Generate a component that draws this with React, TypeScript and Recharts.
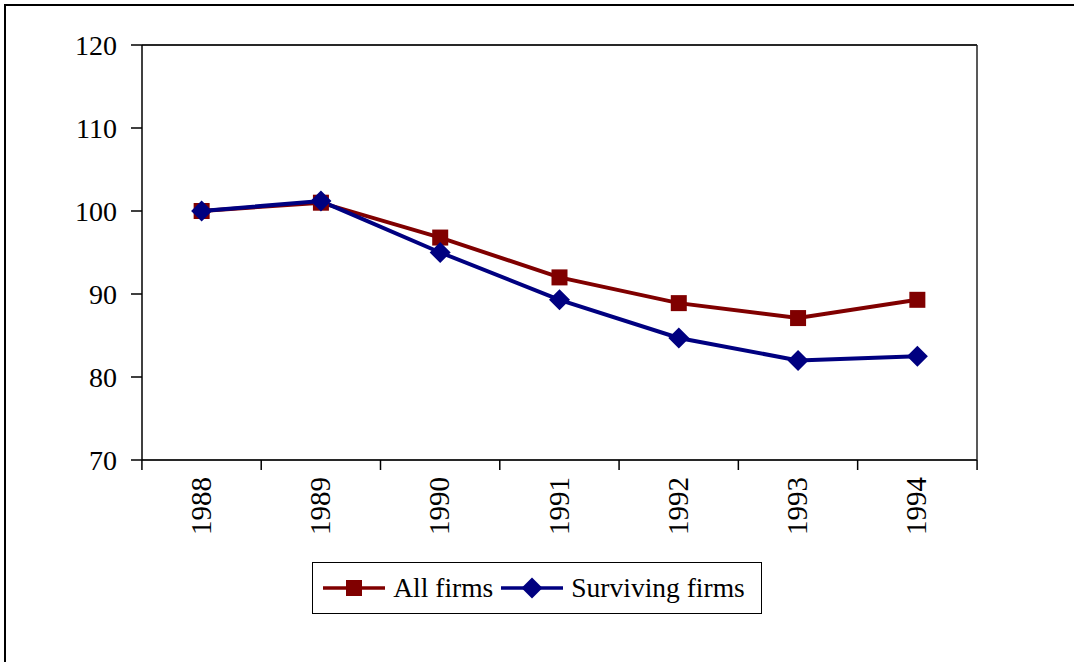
import React from 'react';
import {
  LineChart,
  Line,
  XAxis,
  YAxis,
  CartesianGrid,
  Legend,
  ReferenceLine
} from 'recharts';

const years = ['1988', '1989', '1990', '1991', '1992', '1993', '1994'];
const allFirms = [100, 101.0, 96.8, 92.0, 88.9, 87.1, 89.3];
const survivingFirms = [100, 101.2, 95.0, 89.3, 84.7, 82.0, 82.5];
const yTicks = [70, 80, 90, 100, 110, 120];

const RED = '#800000';
const BLUE = '#000080';
const FONT = '"Liberation Serif", Tinos, "Times New Roman", Times, serif';

const CHART_W = 1074;
const CHART_H = 662;
const PLOT_LEFT = 142;
const PLOT_RIGHT = 978;
const PLOT_BOTTOM = 460;
const BAND = (PLOT_RIGHT - PLOT_LEFT) / years.length;

const data = years.map((year, i) => ({
  year,
  all: allFirms[i],
  surviving: survivingFirms[i]
}));

function YearTick(props: any) {
  const { x, payload, index } = props;
  const half = BAND / 2;
  const y = PLOT_BOTTOM;
  return (
    <g>
      <line x1={x - half} x2={x - half} y1={y} y2={y + 10} stroke="#000" strokeWidth={1.5} />
      {index === years.length - 1 && (
        <line x1={x + half} x2={x + half} y1={y} y2={y + 10} stroke="#000" strokeWidth={1.5} />
      )}
      <text
        transform={`translate(${x + 9},${y + 17}) rotate(-90)`}
        textAnchor="end"
        fontFamily={FONT}
        fontSize={29}
        fill="#000"
      >
        {payload.value}
      </text>
    </g>
  );
}

function SquareDot(props: any) {
  const { cx, cy } = props;
  if (cx == null || cy == null) return null;
  return <rect x={cx - 8} y={cy - 8} width={16} height={16} fill={RED} />;
}

function DiamondDot(props: any) {
  const { cx, cy } = props;
  if (cx == null || cy == null) return null;
  const r = 10.5;
  return (
    <polygon
      points={`${cx},${cy - r} ${cx + r},${cy} ${cx},${cy + r} ${cx - r},${cy}`}
      fill={BLUE}
    />
  );
}

function LegendBox() {
  const item = (color: string, marker: React.ReactNode, label: string) => (
    <div style={{ display: 'flex', alignItems: 'center', marginRight: 8 }}>
      <svg width={62} height={22} style={{ marginRight: 8 }}>
        <line x1={0} x2={62} y1={11} y2={11} stroke={color} strokeWidth={3.5} />
        {marker}
      </svg>
      <span>{label}</span>
    </div>
  );
  return (
    <div style={{ display: 'flex', justifyContent: 'center', width: CHART_W }}>
      <div
        style={{
          display: 'flex',
          alignItems: 'center',
          border: '1px solid #000',
          padding: '8px 8px 8px 10px',
          fontFamily: FONT,
          fontSize: 27.5,
          color: '#000',
          lineHeight: '34px'
        }}
      >
        {item(RED, <rect x={23} y={3} width={16} height={16} fill={RED} />, 'All firms')}
        {item(BLUE, <polygon points="31,0.5 41.5,11 31,21.5 20.5,11" fill={BLUE} />, 'Surviving firms')}
      </div>
    </div>
  );
}

export default function App() {
  return (
    <div
      style={{
        position: 'fixed',
        left: 0,
        top: 0,
        width: CHART_W,
        height: CHART_H,
        background: '#fff',
        borderTop: '2px solid #000',
        borderLeft: '2px solid #000',
        boxSizing: 'border-box',
        marginTop: 4,
        marginLeft: 4
      }}
    >
      <div style={{ position: 'absolute', left: -6, top: -6 }}>
        <LineChart
          width={CHART_W}
          height={CHART_H}
          data={data}
          margin={{ top: 45, right: CHART_W - PLOT_RIGHT, bottom: 0, left: 0 }}
        >
          <CartesianGrid vertical={false} stroke="#808080" strokeWidth={1.5} />
          <XAxis
            dataKey="year"
            scale="band"
            height={102}
            tickLine={false}
            axisLine={{ stroke: '#000', strokeWidth: 1.5 }}
            tick={<YearTick />}
            interval={0}
          />
          <YAxis
            yAxisId="left"
            domain={[70, 120]}
            ticks={yTicks}
            width={PLOT_LEFT}
            tickSize={11}
            tickMargin={14}
            axisLine={{ stroke: '#000', strokeWidth: 1.5 }}
            tickLine={{ stroke: '#000', strokeWidth: 1.5 }}
            tick={{ fontFamily: FONT, fontSize: 28, fill: '#000' }}
          />
          <YAxis
            yAxisId="right"
            orientation="right"
            domain={[70, 120]}
            width={1}
            tick={false}
            tickLine={false}
            axisLine={{ stroke: '#222', strokeWidth: 1.5 }}
          />
          <ReferenceLine yAxisId="left" y={120} stroke="#000" strokeWidth={1.5} />
          <Legend
            verticalAlign="bottom"
            height={100}
            wrapperStyle={{ left: 0, width: CHART_W }}
            content={<LegendBox />}
          />
          <Line
            yAxisId="left"
            type="linear"
            dataKey="all"
            stroke={RED}
            strokeWidth={4}
            dot={<SquareDot />}
            activeDot={false}
            isAnimationActive={false}
          />
          <Line
            yAxisId="left"
            type="linear"
            dataKey="surviving"
            stroke={BLUE}
            strokeWidth={4}
            dot={<DiamondDot />}
            activeDot={false}
            isAnimationActive={false}
          />
        </LineChart>
      </div>
    </div>
  );
}
